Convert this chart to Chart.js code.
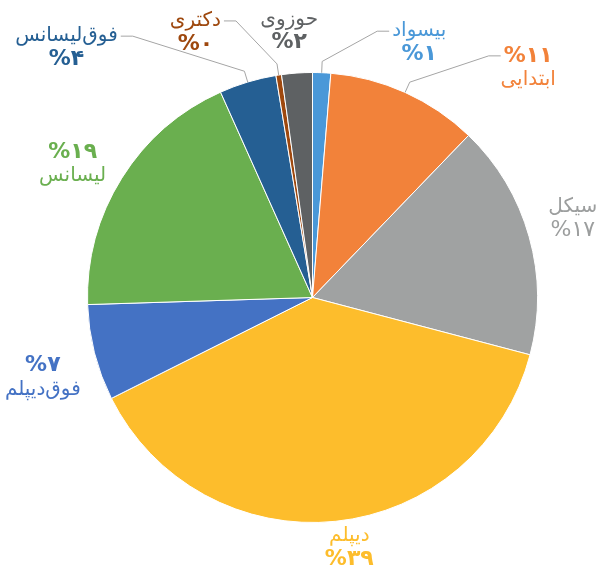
<!DOCTYPE html>
<html>
<head>
<meta charset="utf-8">
<script src="https://cdn.jsdelivr.net/npm/chart.js@4"></script>
<style>
  body { margin: 0; background: #fff; }
  canvas { display: block; }
</style>
</head>
<body>
<canvas id="eduChart" width="610" height="572"></canvas>
<script>
// سطح تحصیلات - ترتیب ساعتگرد از بالا
const categories = ['بیسواد', 'ابتدایی', 'سیکل', 'دیپلم', 'فوق‌دیپلم', 'لیسانس', 'فوق‌لیسانس', 'دکتری', 'حوزوی'];
const shares = [1.3, 10.9, 16.9, 38.5, 6.9, 18.8, 4.1, 0.4, 2.2];
const sliceColors = ['#4a98d8', '#f2823a', '#a0a2a2', '#fdbd2c', '#4472c4', '#6aaf4f', '#255f93', '#9e480e', '#5e6163'];
const textColors = ['#4a98d8', '#f2823a', '#9c9e9e', '#fdbd2c', '#4472c4', '#6aaf4f', '#255f93', '#9e480e', '#5e6163'];

// جای برچسب‌ها: زاویه از بالا (درجه)، فاصله نسبت به شعاع
const labelPlace = [
    { a: 22.7, k: 1.23, pctFirst: false, bold: true,  leader: 'left' },
    { a: 43.2, k: 1.40, pctFirst: true,  bold: true,  leader: 'left' },
    { a: 73.0, k: 1.21, pctFirst: false, bold: false, leader: null },
    { a: 171.6, k: 1.12, pctFirst: false, bold: true, leader: null },
    { a: 253.5, k: 1.25, pctFirst: true, bold: true,  leader: null },
    { a: 299.1, k: 1.22, pctFirst: true, bold: true,  leader: null },
    { a: 315.5, k: 1.56, pctFirst: false, bold: true, leader: 'right' },
    { a: 336.2, k: 1.29, pctFirst: false, bold: true, leader: 'right' },
    { a: 355.0, k: 1.19, pctFirst: false, bold: true, leader: null }
];

const faDigits = '۰۱۲۳۴۵۶۷۸۹';
function toFa(n) {
    return String(n).split('').map(d => faDigits[+d]).join('');
}

const FONT = '"DejaVu Sans", sans-serif';

const pieLabels = {
    id: 'pieLabels',
    afterDraw(chart) {
        const ctx = chart.ctx;
        const arcs = chart.getDatasetMeta(0).data;
        const total = shares.reduce((s, v) => s + v, 0);
        ctx.save();
        ctx.textAlign = 'center';
        ctx.textBaseline = 'middle';
        arcs.forEach((arc, i) => {
            const p = labelPlace[i];
            const cx = arc.x, cy = arc.y, r = arc.outerRadius;
            const rad = p.a * Math.PI / 180;
            const lx = cx + Math.sin(rad) * r * p.k;
            const ly = cy - Math.cos(rad) * r * p.k;
            const pct = '%' + toFa(Math.round(shares[i] / total * 100));
            const nameY = p.pctFirst ? ly + 12 : ly - 11;
            const pctY = p.pctFirst ? ly - 12 : ly + 12;

            ctx.fillStyle = textColors[i];
            ctx.direction = 'rtl';
            ctx.font = '20px ' + FONT;
            ctx.fillText(categories[i], lx, nameY);
            const nameW = ctx.measureText(categories[i]).width;
            ctx.direction = 'ltr';
            ctx.font = (p.bold ? 'bold ' : '') + '22px ' + FONT;
            ctx.fillText(pct, lx, pctY);

            if (p.leader) {
                const mid = (arc.startAngle + arc.endAngle) / 2;
                const x0 = cx + Math.cos(mid) * r;
                const y0 = cy + Math.sin(mid) * r;
                const x1 = cx + Math.cos(mid) * r * 1.05;
                const y1 = cy + Math.sin(mid) * r * 1.05;
                const ty = p.pctFirst ? pctY : nameY;
                const tw = p.pctFirst ? ctx.measureText(pct).width : nameW;
                const dir = p.leader === 'left' ? -1 : 1;
                const xe = lx + dir * (tw / 2 + 3);
                ctx.strokeStyle = '#a5a5a5';
                ctx.lineWidth = 1;
                ctx.beginPath();
                ctx.moveTo(x0, y0);
                ctx.lineTo(x1, y1);
                ctx.lineTo(xe + dir * 12, ty);
                ctx.lineTo(xe, ty);
                ctx.stroke();
            }
        });
        ctx.restore();
    }
};

new Chart(document.getElementById('eduChart'), {
    type: 'pie',
    data: {
        labels: categories,
        datasets: [{
            data: shares,
            backgroundColor: sliceColors,
            borderColor: '#ffffff',
            borderWidth: 1
        }]
    },
    options: {
        responsive: false,
        animation: false,
        layout: { padding: { top: 72, bottom: 49, left: 87, right: 72 } },
        plugins: {
            legend: { display: false },
            tooltip: { enabled: false }
        }
    },
    plugins: [pieLabels]
});
</script>
</body>
</html>
